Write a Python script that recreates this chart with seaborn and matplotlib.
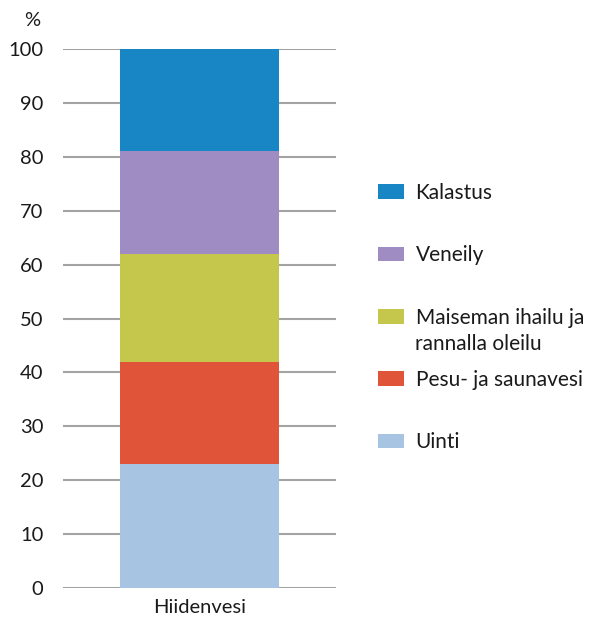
import matplotlib
matplotlib.use("Agg")
import matplotlib.pyplot as plt
import numpy as np
import pandas as pd
import seaborn as sns

# data (percent shares)
site = ["Hiidenvesi"]
categories = ["Uinti", "Pesu- ja saunavesi", "Maiseman ihailu ja",
              "Veneily", "Kalastus"]
shares = [23, 19, 20, 19, 19]
colors = ["#a7c4e2", "#e0553a", "#c5c64c", "#9e8cc2", "#1886c4"]
yticks = list(range(0, 101, 10))
label_tail = "rannalla oleilu"  # second line of the "Maiseman" label

sns.set_theme(style="white")
plt.rcParams["font.family"] = ["Lato", "DejaVu Sans"]

fig = plt.figure(figsize=(5.91, 6.26), dpi=100)
ax = fig.add_axes([63 / 591, 1 - 588 / 626, (336 - 63) / 591, (588 - 49) / 626])

# stacked bar: draw cumulative totals from the top segment down
cum = np.cumsum(shares)
handles = {}
for i in reversed(range(len(categories))):
    df = pd.DataFrame({"site": site, "value": [cum[i]]})
    sns.barplot(data=df, x="site", y="value", color=colors[i], width=0.58,
                saturation=1, linewidth=0, ax=ax, zorder=3)
    handles[categories[i]] = ax.patches[-1]

ax.set_ylim(0, 100)
ax.set_xlim(-0.5, 0.5)
ax.set_yticks(yticks)
ax.set_xlabel("")
ax.set_ylabel("")
ax.yaxis.grid(True, color="#a3a3a3", linewidth=1.5, zorder=0)
ax.set_axisbelow(True)
for s in ax.spines.values():
    s.set_visible(False)
ax.tick_params(axis="y", length=0, pad=14, labelsize=14.5, labelcolor="#1a1a1a")
ax.tick_params(axis="x", length=0, pad=8, labelsize=14.5, labelcolor="#1a1a1a")

fig.text(32 / 591, 1 - 20 / 626, "%", ha="center", va="center",
         fontsize=14.5, color="#1a1a1a")

order = ["Kalastus", "Veneily", "Maiseman ihailu ja", "Pesu- ja saunavesi", "Uinti"]
leg = fig.legend([handles[c] for c in order], order, loc="upper left",
                 bbox_to_anchor=(378 / 591, 1 - 183 / 626), frameon=False,
                 fontsize=15, handlelength=1.25, handleheight=0.7,
                 handletextpad=0.55, labelspacing=2.03, borderpad=0,
                 borderaxespad=0)
for t in leg.get_texts():
    t.set_color("#1a1a1a")

# hang the second line under the first once the legend is laid out
fig.canvas.draw()
bb = leg.get_texts()[2].get_window_extent()
x0, y0 = fig.transFigure.inverted().transform((bb.x0, bb.y0 - 6))
fig.text(x0, y0, label_tail, ha="left", va="top", fontsize=15, color="#1a1a1a")

fig.savefig("out.png", dpi=100)
